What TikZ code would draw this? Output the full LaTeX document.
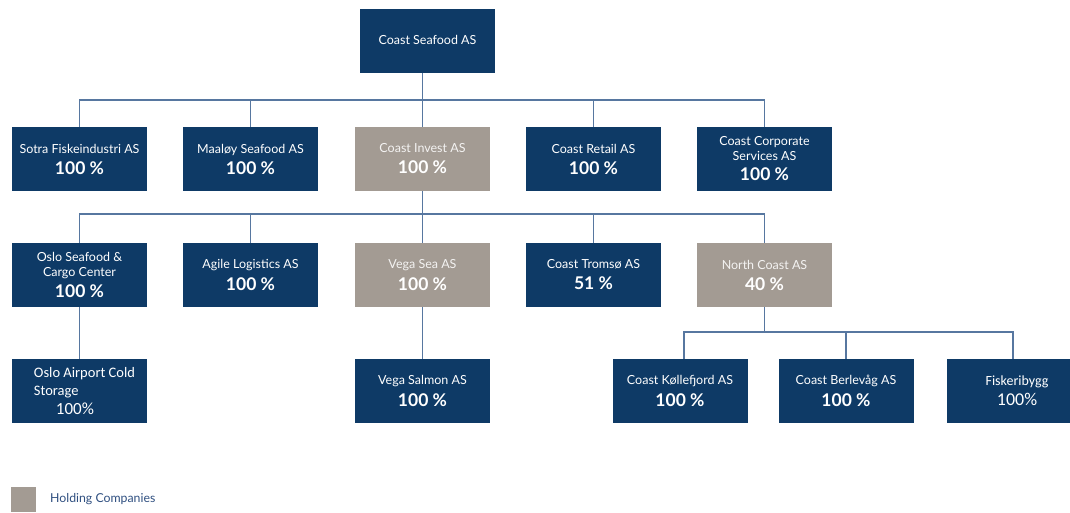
\documentclass[tikz,border=0pt]{standalone}
\usepackage{fontspec}
\newfontfamily\lat{Lato}
\newfontfamily\carl{Carlito}
\definecolor{navy}{HTML}{0E3A66}
\definecolor{taupe}{HTML}{A39B93}
\definecolor{conn}{HTML}{5777A0}
\definecolor{legtxt}{HTML}{2F4F80}
\newcommand\cpct[1]{{\fontsize{17.5}{20}\selectfont\bfseries #1}}
\begin{document}
\begin{tikzpicture}[x=1pt,y=-1pt,
  box/.style={rectangle, fill=navy, text=white, minimum width=135pt, minimum height=64pt, inner sep=0pt, align=center, font=\lat\fontsize{12.5}{15}\selectfont},
  hold/.style={box, fill=taupe},
  link/.style={draw=conn, line width=1.4pt}]
\useasboundingbox (0,0) rectangle (1070,512);
% top
\node[box] (top) at (427.5,41) {\raisebox{3pt}{Coast Seafood AS}};
% row 1
\node[box] (sotra) at (79.5,159) {Sotra Fiskeindustri AS\\[6pt]\cpct{100 \%}};
\node[box] (maaloy) at (250.5,159) {Maaløy Seafood AS\\[6pt]\cpct{100 \%}};
\node[hold] (invest) at (422.5,159) {{\color{white!88!taupe}Coast Invest AS}\\[6pt]\cpct{100 \%}};
\node[box] (retail) at (593.5,159) {Coast Retail AS\\[6pt]\cpct{100 \%}};
\node[box] (corp) at (764.5,159) {Coast Corporate\\Services AS\\[5pt]\cpct{100 \%}};
% row 2
\node[box] (oslosea) at (79.5,275) {Oslo Seafood \&\\Cargo Center\\[5pt]\cpct{100 \%}};
\node[box] (agile) at (250.5,275) {Agile Logistics AS\\[6pt]\cpct{100 \%}};
\node[hold] (vegasea) at (422.5,275) {{\color{white!88!taupe}Vega Sea AS}\\[6pt]\cpct{100 \%}};
\node[box] (tromso) at (593.5,275) {Coast Tromsø AS\\[6pt]\cpct{51 \%}};
\node[hold] (northc) at (764.5,275) {{\color{white!88!taupe}North Coast AS}\\[6pt]\cpct{40 \%}};
% row 3
\node[box, align=left, font=\carl\fontsize{14.5}{18}\selectfont] (osloair) at (79.5,391) {\hspace*{10pt}Oslo Airport Cold\\\hspace*{10pt}Storage\\[1pt]\hspace*{32pt}{\fontsize{17}{20}\selectfont 100\%}};
\node[box] (vegasalmon) at (422.5,391) {Vega Salmon AS\\[6pt]\cpct{100 \%}};
\node[box] (koll) at (680,391) {Coast Køllefjord AS\\[6pt]\cpct{100 \%}};
\node[box] (berl) at (846,391) {Coast Berlevåg AS\\[6pt]\cpct{100 \%}};
\node[box, font=\carl\fontsize{14}{17}\selectfont, minimum width=140pt] (fisk) at (1017,391) {Fiskeribygg\\[3pt]{\fontsize{18}{20}\selectfont 100\%}};
% connectors
\coordinate (b1) at (422.5,100);
\coordinate (b2) at (422.5,214);
\coordinate (b3) at (764.5,332);
\draw[link] (invest.north |- top.south) -- (invest.north);
\draw[link] (sotra.north) |- (b1) -| (corp.north);
\draw[link] (maaloy.north) -- (maaloy.north |- b1);
\draw[link] (retail.north) -- (retail.north |- b1);
\draw[link] (invest.south) -- (vegasea.north);
\draw[link] (oslosea.north) |- (b2) -| (northc.north);
\draw[link] (agile.north) -- (agile.north |- b2);
\draw[link] (tromso.north) -- (tromso.north |- b2);
\draw[link] (oslosea.south) -- (osloair.north);
\draw[link] (vegasea.south) -- (vegasalmon.north);
\draw[link] (northc.south) -- (b3);
\draw[link] ([xshift=4pt]koll.north) |- (b3) -| ([xshift=-4pt]fisk.north);
\draw[link] (berl.north) -- (berl.north |- b3);
% legend
\node[fill=taupe, minimum size=25pt, inner sep=0pt] (legsq) at (23.5,499) {};
\node[anchor=west, inner sep=0pt, text=legtxt, font=\lat\fontsize{12.3}{14}\selectfont] (legtx) at (50,499) {Holding Companies};
\end{tikzpicture}
\end{document}
